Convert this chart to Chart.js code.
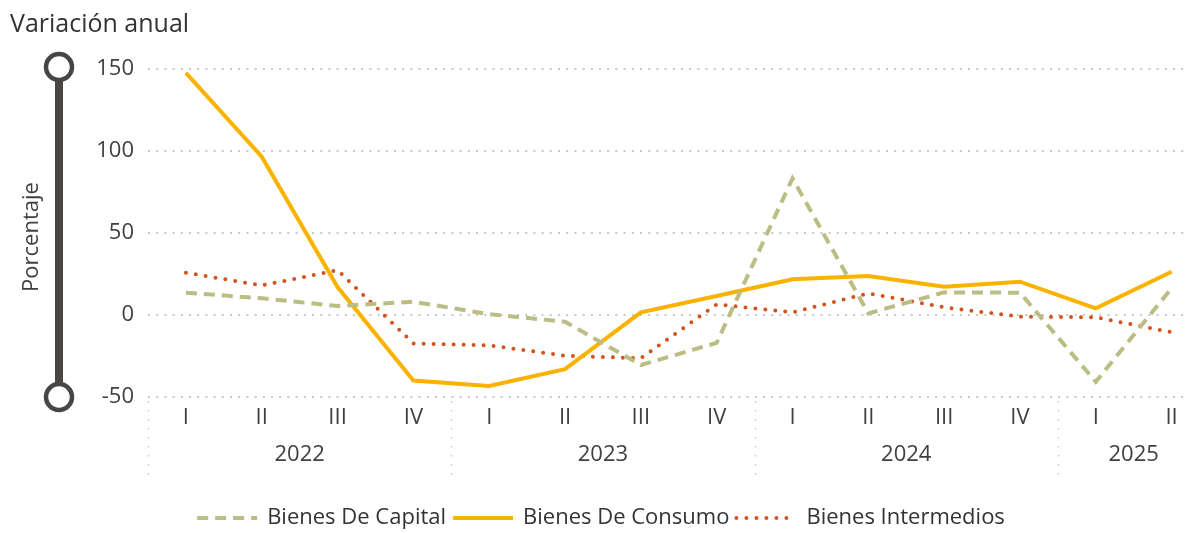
<!DOCTYPE html>
<html lang="es">
<head>
<meta charset="utf-8">
<title>Variación anual</title>
<script src="https://cdn.jsdelivr.net/npm/chart.js@4.4.1/dist/chart.umd.min.js"></script>
<style>
  html, body { margin: 0; padding: 0; background: #fff; }
  #wrap { width: 1193px; height: 533px; position: relative; }
</style>
</head>
<body>
<div id="wrap"><canvas id="varChart"></canvas></div>
<script>
// Variación anual (%) por tipo de bien, trimestral 2022-2025
var YEARS = ['2022', '2023', '2024', '2025'];
var YEAR_QUARTERS = [4, 4, 4, 2];
var QUARTERS = ['I', 'II', 'III', 'IV', 'I', 'II', 'III', 'IV', 'I', 'II', 'III', 'IV', 'I', 'II'];
var Y_MIN = -50, Y_MAX = 150, Y_STEP = 50;

var CAPITAL     = [13.6, 10.2, 5.5, 8.1, 0.5, -4.1, -30.5, -17, 83.3, 1, 13.8, 13.6, -40.7, 16.3];
var CONSUMO     = [147.6, 96.5, 17, -40, -43.3, -33, 1.6, 11.6, 21.8, 23.8, 17.3, 20.3, 4.1, 26.4];
var INTERMEDIOS = [25.8, 18, 27.4, -17.3, -18.5, -24.8, -26.4, 6.5, 1.6, 13.2, 4.7, -1, -1.4, -10.5];

var FONT = '"Segoe UI", "Open Sans", "Noto Sans", sans-serif';
var TEXT = '#404040';

function toPoints(values) {
  return values.map(function(v, i) { return { x: i, y: v }; });
}

// title, axis caption, range handle, year row and its separators
var decorPlugin = {
  id: 'decor',
  afterDraw: function(chart) {
    var ctx = chart.ctx;
    var xs = chart.scales.x, ys = chart.scales.y;
    var top = ys.getPixelForValue(Y_MAX) - 2;
    var bot = ys.getPixelForValue(Y_MIN);
    ctx.save();

    ctx.fillStyle = '#333';
    ctx.font = '25px ' + FONT;
    ctx.textAlign = 'left';
    ctx.textBaseline = 'middle';
    ctx.fillText('Variación anual', 10, 25);

    // handle bar
    ctx.strokeStyle = '#484644';
    ctx.lineWidth = 8;
    ctx.beginPath();
    ctx.moveTo(59, top);
    ctx.lineTo(59, bot);
    ctx.stroke();
    [top, bot].forEach(function(y) {
      ctx.beginPath();
      ctx.arc(59, y, 13, 0, Math.PI * 2);
      ctx.fillStyle = '#fff';
      ctx.fill();
      ctx.lineWidth = 4.5;
      ctx.stroke();
    });

    ctx.save();
    ctx.translate(32, 237);
    ctx.rotate(-Math.PI / 2);
    ctx.textAlign = 'center';
    ctx.fillStyle = TEXT;
    ctx.font = '22px ' + FONT;
    ctx.fillText('Porcentaje', 0, 0);
    ctx.restore();

    // year groups
    var start = 0;
    ctx.font = '22px ' + FONT;
    ctx.textAlign = 'center';
    ctx.fillStyle = TEXT;
    ctx.strokeStyle = '#c8c8c8';
    ctx.lineWidth = 1.5;
    ctx.setLineDash([1.5, 7.5]);
    YEARS.forEach(function(year, k) {
      var n = YEAR_QUARTERS[k];
      var sx = Math.round(xs.getPixelForValue(start - 0.5)) + 0.5;
      ctx.beginPath();
      ctx.moveTo(sx, bot + 4);
      ctx.lineTo(sx, 476);
      ctx.stroke();
      ctx.fillText(year, xs.getPixelForValue(start + (n - 1) / 2), 455);
      start += n;
    });
    ctx.restore();
  }
};

// legend row with the dataset's own line style as the key
var lineLegend = {
  id: 'lineLegend',
  afterDraw: function(chart) {
    var ctx = chart.ctx;
    var sets = chart.data.datasets;
    var keyW = 62, gapKey = 10, gapItem = 5, y = 518;
    ctx.save();
    ctx.font = '22px ' + FONT;
    ctx.textBaseline = 'middle';
    ctx.textAlign = 'left';
    var widths = sets.map(function(d) { return ctx.measureText(d.label).width; });
    var total = widths.reduce(function(a, b) { return a + b; }, 0) +
      sets.length * (keyW + gapKey) + (sets.length - 1) * gapItem;
    var x = 600 - total / 2;
    sets.forEach(function(d, i) {
      ctx.save();
      ctx.strokeStyle = d.borderColor;
      ctx.lineWidth = d.borderWidth;
      ctx.lineCap = d.borderCapStyle || 'butt';
      ctx.setLineDash(d.borderDash || []);
      ctx.beginPath();
      ctx.moveTo(x + 2, y);
      ctx.lineTo(x + keyW, y);
      ctx.stroke();
      ctx.restore();
      x += keyW + gapKey;
      ctx.fillStyle = '#333';
      ctx.fillText(d.label, x, y);
      x += widths[i] + gapItem;
    });
    ctx.restore();
  }
};

new Chart(document.getElementById('varChart'), {
  type: 'line',
  data: {
    datasets: [
      {
        label: 'Bienes De Capital',
        data: toPoints(CAPITAL),
        borderColor: '#BBBD84',
        borderWidth: 4,
        borderDash: [11, 7]
      },
      {
        label: 'Bienes De Consumo',
        data: toPoints(CONSUMO),
        borderColor: '#F9B200',
        borderWidth: 4
      },
      {
        label: 'Bienes Intermedios',
        data: toPoints(INTERMEDIOS),
        borderColor: '#D3531A',
        borderWidth: 4,
        borderDash: [0, 10],
        borderCapStyle: 'round'
      }
    ]
  },
  options: {
    responsive: true,
    maintainAspectRatio: false,
    animation: false,
    clip: false,
    elements: {
      point: { radius: 0, hoverRadius: 0 },
      line: { tension: 0 }
    },
    layout: { padding: { left: 0, right: 7, top: 69, bottom: 44 } },
    scales: {
      x: {
        type: 'linear',
        min: -0.5,
        max: 13.19,
        afterBuildTicks: function(s) {
          s.ticks = QUARTERS.map(function(q, i) { return { value: i }; });
        },
        afterFit: function(s) { s.height = 92; },
        ticks: {
          autoSkip: false,
          maxRotation: 0,
          padding: 8,
          color: TEXT,
          font: { family: FONT, size: 22 },
          callback: function(v) { return QUARTERS[v]; }
        },
        grid: { display: false, drawTicks: false },
        border: { display: false }
      },
      y: {
        min: Y_MIN,
        max: Y_MAX,
        afterFit: function(s) { s.width = 148; },
        ticks: {
          stepSize: Y_STEP,
          padding: 14,
          color: TEXT,
          font: { family: FONT, size: 22 }
        },
        grid: { color: '#c8c8c8', lineWidth: 2, drawTicks: false },
        border: { display: false, dash: [2, 6.2] }
      }
    },
    plugins: {
      legend: { display: false },
      tooltip: { enabled: false }
    }
  },
  plugins: [decorPlugin, lineLegend]
});
</script>
</body>
</html>
